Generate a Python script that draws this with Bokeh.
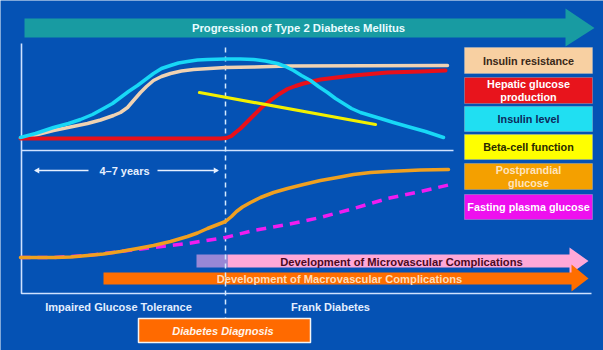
from bokeh.plotting import figure
from bokeh.models import Range1d
from bokeh.core.properties import value
from bokeh.embed import file_html
from bokeh.resources import INLINE

# ---- curve data (x = progression, y = level; y axis runs downward) ----
insulin_level_x = [20, 35, 53, 68, 80, 92, 103, 112, 120, 128, 137, 145, 153, 161, 170, 178, 187, 197,
                   207, 225, 240, 253, 265, 277, 285, 293, 301, 310, 318, 327, 335, 343, 351, 360, 370,
                   380, 393, 407, 425, 443]
insulin_level_y = [137, 133, 127, 123, 119, 114, 108, 103, 97, 91, 85, 79, 73, 68, 65, 62.5, 61, 59.5,
                   59, 58.5, 58.5, 59, 60.5, 63, 66, 70, 75, 80, 86, 92, 98, 103, 108, 112, 115,
                   118, 122, 126, 131, 137]

insulin_resist_x = [20, 37, 53, 70, 87, 100, 113, 120, 127, 133, 140, 146, 153, 161, 170, 181, 193, 209,
                    225, 253, 287, 447]
insulin_resist_y = [138, 134, 130, 126.5, 123, 119.5, 115, 112, 107, 100, 92, 86, 80, 76, 73, 70.5, 69, 68,
                    67, 66.5, 65.5, 65]

hepatic_x = [20, 220, 226, 231, 235, 240, 246, 253, 261, 270, 278, 287, 295, 303, 320, 336, 353, 370,
             387, 420, 445]
hepatic_y = [138, 138, 137.5, 135.5, 132, 128, 122, 115, 107, 100, 94, 88.5, 85.5, 83, 79, 77, 75, 73.5,
             72, 71, 70]

beta_cell_x = [199, 375]
beta_cell_y = [92, 124]

postprandial_x = [20, 53, 70, 87, 103, 120, 137, 153, 170, 187, 197, 207, 216, 225, 231, 236, 242, 250,
                  260, 273, 287, 303, 320, 337, 353, 370, 387, 420, 448]
postprandial_y = [257, 257, 256.5, 255, 253.5, 251, 248, 245, 241, 236, 232.5, 228, 224.5, 221, 216, 211,
                  206.5, 202, 197, 192, 188, 184, 180, 177, 174, 172, 171, 169.5, 169]

fasting_x = [20, 53, 87, 120, 153, 187, 225, 253, 287, 320, 353, 387, 420, 450]
fasting_y = [257, 257, 255, 251, 247, 243, 237, 230, 224, 217, 208, 198, 191, 184]

# ---- legend ----
legend_labels = ["Insulin resistance", "Hepatic glucose\nproduction", "Insulin level",
                 "Beta-cell function", "Postprandial\nglucose", "Fasting plasma glucose"]
legend_fill = ["#f8d0a2", "#e8141c", "#20dff2", "#ffff00", "#f4a000", "#ee10ee"]
legend_text_color = ["#3a2818", "#ffffff", "#0c2a5c", "#2a2a00", "#ffe4bc", "#ffffff"]
legend_top = [47, 77, 106, 134, 163, 194]
legend_bottom = [73, 103, 131, 159, 189, 219]
legend_left, legend_right = 464, 592

# ---- arrows: [start, end of body, tip, body top, body bottom, head top, head bottom] ----
progression_arrow = [24, 565, 594, 18, 37, 8, 46]
micro_arrow = [227, 569, 588, 254, 267, 247, 274]
macro_arrow = [103, 571, 588, 272, 284, 264, 291]
micro_pre_span = [196, 227]

diagnosis_x = 225
years_span = [35, 88, 157, 217]

BG = "#0552b4"
FONT = value("Liberation Sans")

p = figure(width=603, height=350, x_range=Range1d(0, 603), y_range=Range1d(350, 0),
           output_backend="svg", toolbar_location=None, min_border=0,
           x_axis_type=None, y_axis_type=None, outline_line_color=None,
           background_fill_color=BG, border_fill_color=BG)
p.grid.visible = False


def arrow(spec, color):
    x0, x1, tip, bt, bb, ht, hb = spec
    mid = (bt + bb) / 2
    xs = [x0, x1, x1, tip, x1, x1, x0]
    ys = [bt, bt, ht, mid, hb, bb, bb]
    p.patch(xs, ys, fill_color=color, line_color=None)


# progression arrow
arrow(progression_arrow, "#189ba2")
p.text([298], [27.5], text=["Progression of Type 2 Diabetes Mellitus"], text_font=FONT,
       text_font_style="bold", text_font_size="11.3px", text_color="#e8fbff",
       text_align="center", text_baseline="middle")

# axes frame
p.line([21, 21, 591], [43, 293, 293], line_color="#cfe2ff", line_width=1.6)
p.line([21, 453], [150, 150], line_color="#cfe2ff", line_width=1.4)

# complication arrows
p.quad(left=[micro_pre_span[0]], right=[micro_pre_span[1]], top=[micro_arrow[3]],
       bottom=[micro_arrow[4]], fill_color="#9887d6", line_color=None)
arrow(micro_arrow, "#ffa8d8")
arrow(macro_arrow, "#ff6e00")
p.text([401], [261], text=["Development of Microvascular Complications"], text_font=FONT,
       text_font_style="bold", text_font_size="11.2px", text_color="#4a0a22",
       text_align="center", text_baseline="middle")
p.text([339], [278.5], text=["Development of Macrovascular Complications"], text_font=FONT,
       text_font_style="bold", text_font_size="11.2px", text_color="#ffdcb8",
       text_align="center", text_baseline="middle")

# diagnosis marker
p.line([diagnosis_x, diagnosis_x], [47, 318], line_color="#d4eaff", line_width=1.5,
       line_dash="5 4")

# curves
p.line(insulin_resist_x, insulin_resist_y, line_color="#f0d2b2", line_width=3.5,
       line_join="round", line_cap="round")
p.line(hepatic_x, hepatic_y, line_color="#e8101a", line_width=4,
       line_join="round", line_cap="round")
p.line(insulin_level_x, insulin_level_y, line_color="#18d8f6", line_width=3.5,
       line_join="round", line_cap="round")
p.line(beta_cell_x, beta_cell_y, line_color="#f2f000", line_width=3.2, line_cap="round")
p.line(fasting_x, fasting_y, line_color="#f01cf0", line_width=3.5, line_dash="10 7")
p.line(postprandial_x, postprandial_y, line_color="#f0a020", line_width=3.5,
       line_join="round", line_cap="round")

# 4-7 years span
p.line([years_span[0], years_span[1]], [170, 170], line_color="#e6f0ff", line_width=1.3)
p.line([years_span[2], years_span[3]], [170, 170], line_color="#e6f0ff", line_width=1.3)
p.triangle([years_span[0] + 2], [170], size=6, angle=1.5708, fill_color="#e6f0ff", line_color=None)
p.triangle([years_span[3] - 2], [170], size=6, angle=-1.5708, fill_color="#e6f0ff", line_color=None)
p.text([124], [170], text=["4–7 years"], text_font=FONT, text_font_style="bold",
       text_font_size="11px", text_color="#e6f0ff", text_align="center", text_baseline="middle")

# legend boxes
p.quad(left=[legend_left] * 6, right=[legend_right] * 6, top=legend_top, bottom=legend_bottom,
       fill_color=legend_fill, line_color="#c8c8c8", line_alpha=0.35, line_width=1)
p.text([(legend_left + legend_right) / 2] * 6,
       [(t + b) / 2 for t, b in zip(legend_top, legend_bottom)],
       text=legend_labels, text_font=FONT, text_font_style="bold", text_font_size="10.8px",
       text_color=legend_text_color, text_align="center", text_baseline="middle",
       text_line_height=1.1)

# stage labels
p.text([118, 330], [306, 306], text=["Impaired Glucose Tolerance", "Frank Diabetes"],
       text_font=FONT, text_font_style="bold", text_font_size="11px", text_color="#e2eeff",
       text_align="center", text_baseline="middle")

p.quad(left=[138], right=[310], top=[318], bottom=[342], fill_color="#ff6a00",
       line_color="#f4f4f4", line_width=1.5)
p.text([224], [330], text=["Diabetes  Diagnosis"], text_font=FONT,
       text_font_style="bold italic", text_font_size="11px", text_color="#fff4ea",
       text_align="center", text_baseline="middle")

open("out.html", "w").write(file_html(p, INLINE))
